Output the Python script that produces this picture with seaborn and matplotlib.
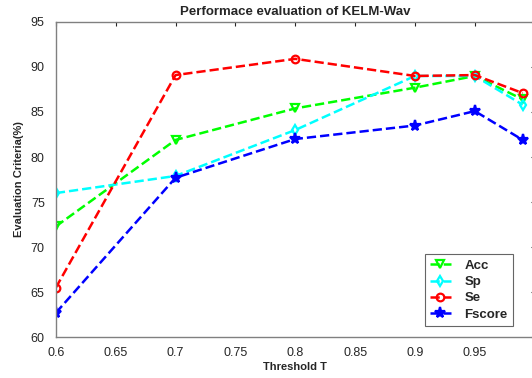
import numpy as np
import pandas as pd
import matplotlib
matplotlib.use("Agg")
import matplotlib.pyplot as plt
import seaborn as sns

# data
threshold = [0.6, 0.7, 0.8, 0.9, 0.95, 0.99]
acc = [72.3, 81.9, 85.4, 87.7, 89.0, 86.4]
sp = [76.0, 77.9, 83.0, 89.0, 89.0, 85.8]
se = [65.5, 89.1, 90.9, 89.0, 89.1, 87.1]
fscore = [62.7, 77.7, 82.0, 83.5, 85.1, 81.9]

series_names = ["Acc", "Sp", "Se", "Fscore"]
series_vals = [acc, sp, se, fscore]
colors = ["#00ff00", "#00ffff", "#ff0000", "#0000ff"]
markers = ["v", "d", "o", "*"]

sns.set_style("white")
plt.rcParams["font.family"] = ["Liberation Sans", "DejaVu Sans"]

fig = plt.figure(figsize=(5.32, 3.78), dpi=100)
ax = fig.add_axes([0.105, 0.108, 0.900, 0.834])

for name, vals, c, m in zip(series_names, series_vals, colors, markers):
    df = pd.DataFrame({"T": threshold, "v": vals})
    filled = m == "*"
    sns.lineplot(data=df, x="T", y="v", ax=ax, color=c, linestyle="--", linewidth=1.8,
                 marker=m, markersize=8 if m == "*" else 5.5,
                 markerfacecolor=c if filled else "none",
                 markeredgecolor=c, markeredgewidth=1.6, label=name)

ax.set_xlim(0.6, 1.0)
ax.set_ylim(60, 95)
ax.set_xticks([0.6, 0.65, 0.7, 0.75, 0.8, 0.85, 0.9, 0.95])
ax.set_xticklabels(["0.6", "0.65", "0.7", "0.75", "0.8", "0.85", "0.9", "0.95"])
ax.set_yticks(range(60, 96, 5))
ax.tick_params(direction="in", length=3, labelsize=9, colors="#262626", width=0.8)
ax.tick_params(axis="y", pad=8)
ax.tick_params(axis="x", pad=7)
ax.tick_params(top=True, right=True, labeltop=False, labelright=False)
for s in ax.spines.values():
    s.set_color("#808080")
    s.set_linewidth(1)

ax.set_xlabel("Threshold T", fontsize=8, fontweight="bold", labelpad=2)
ax.set_ylabel("Evaluation Criteria(%)", fontsize=8, fontweight="bold", labelpad=5)
ax.set_title("Performace evaluation of KELM-Wav", fontsize=9.5, fontweight="bold", pad=5)

leg = ax.legend(loc="lower right", bbox_to_anchor=(0.968, 0.015), prop={"weight": "bold", "size": 9.5},
                frameon=True, fancybox=False, edgecolor="#404040", handlelength=1.6,
                handletextpad=1.0, borderpad=0.4, labelspacing=0.3)
leg.get_frame().set_linewidth(0.8)

fig.savefig("out.png", dpi=100)
